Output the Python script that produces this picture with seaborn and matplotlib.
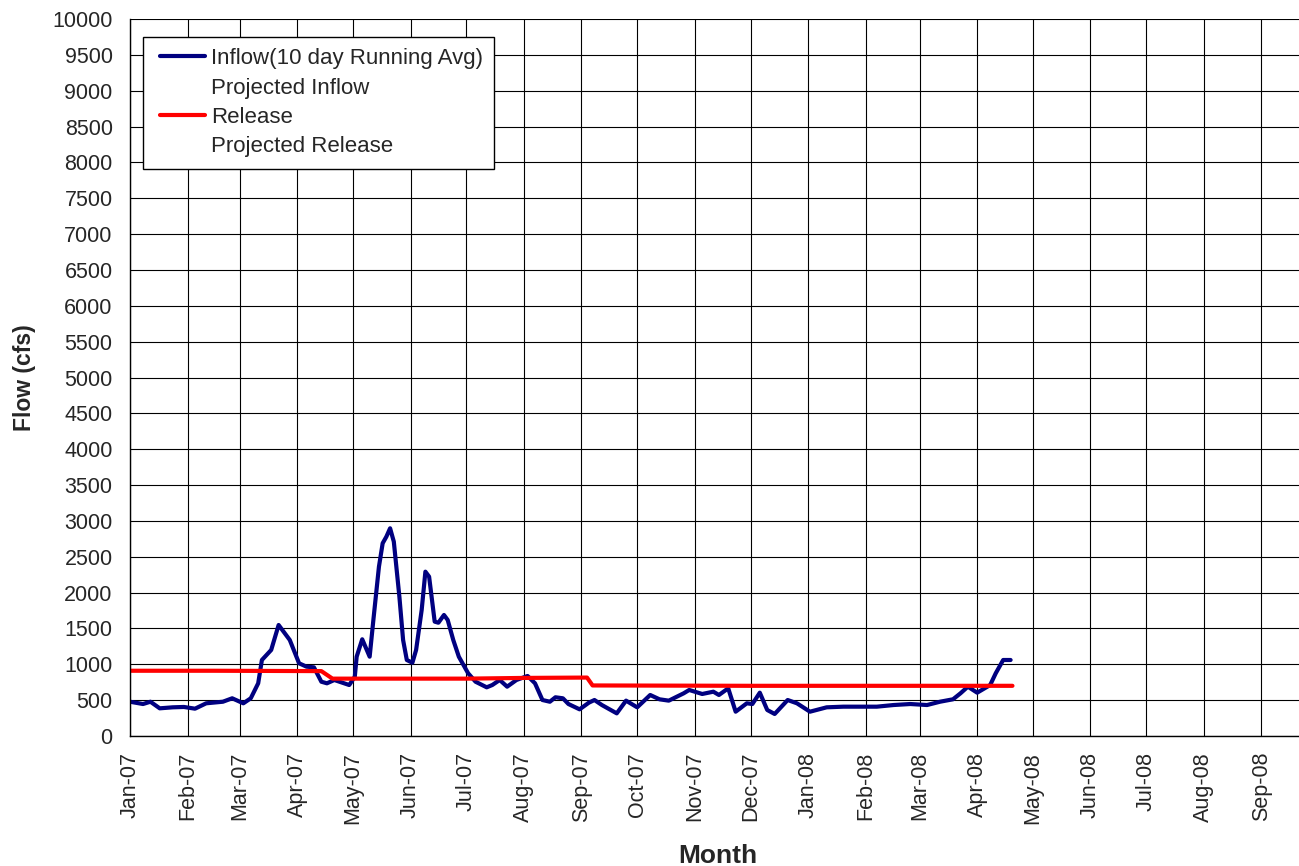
import matplotlib
matplotlib.use('Agg')
import matplotlib.pyplot as plt
import matplotlib.dates as mdates
from matplotlib.lines import Line2D
from matplotlib.legend_handler import HandlerLine2D
import seaborn as sns
import pandas as pd

# Inflow, 10 day running average
inflow_dates = ['2007-01-01', '2007-01-08', '2007-01-12', '2007-01-17', '2007-01-24', '2007-01-30',
                '2007-02-05', '2007-02-11', '2007-02-20', '2007-02-25', '2007-03-03', '2007-03-07',
                '2007-03-11', '2007-03-13', '2007-03-18', '2007-03-22', '2007-03-28', '2007-04-02',
                '2007-04-06', '2007-04-10', '2007-04-14', '2007-04-17', '2007-04-21', '2007-04-29',
                '2007-05-02', '2007-05-03', '2007-05-06', '2007-05-10', '2007-05-12', '2007-05-15',
                '2007-05-17', '2007-05-19', '2007-05-21', '2007-05-23', '2007-05-26', '2007-05-28',
                '2007-05-30', '2007-06-02', '2007-06-04', '2007-06-07', '2007-06-09', '2007-06-11',
                '2007-06-13', '2007-06-14', '2007-06-16', '2007-06-19', '2007-06-21', '2007-06-24',
                '2007-06-27', '2007-07-02', '2007-07-06', '2007-07-12', '2007-07-15', '2007-07-19',
                '2007-07-23', '2007-07-28', '2007-08-03', '2007-08-07', '2007-08-11', '2007-08-15',
                '2007-08-18', '2007-08-22', '2007-08-25', '2007-08-31', '2007-09-05', '2007-09-08',
                '2007-09-12', '2007-09-20', '2007-09-25', '2007-10-01', '2007-10-08', '2007-10-13',
                '2007-10-18', '2007-10-26', '2007-10-29', '2007-11-05', '2007-11-11', '2007-11-14',
                '2007-11-19', '2007-11-23', '2007-11-29', '2007-12-02', '2007-12-06', '2007-12-10',
                '2007-12-14', '2007-12-21', '2007-12-26', '2008-01-02', '2008-01-11', '2008-01-20',
                '2008-01-29', '2008-02-07', '2008-02-16', '2008-02-25', '2008-03-05', '2008-03-12',
                '2008-03-19', '2008-03-23', '2008-03-27', '2008-04-01', '2008-04-08', '2008-04-11',
                '2008-04-15', '2008-04-19']
inflow = [478, 446, 478, 386, 400, 405,
          381, 456, 478, 526, 456, 526,
          735, 1060, 1200, 1548, 1339, 1014,
          967, 958, 757, 735, 781, 711,
          827, 1106, 1349, 1106, 1618, 2362,
          2688, 2780, 2897, 2711, 1943, 1339,
          1060, 1022, 1200, 1758, 2292, 2222,
          1804, 1595, 1580, 1688, 1618, 1339,
          1106, 875, 757, 679, 711, 781,
          688, 781, 837, 735, 502, 478,
          540, 526, 446, 372, 465, 502,
          432, 316, 493, 400, 572, 512,
          493, 595, 642, 586, 618, 572,
          665, 339, 456, 446, 604, 363,
          307, 502, 456, 339, 400, 409,
          409, 409, 432, 446, 432, 478,
          512, 595, 688, 604, 711, 875,
          1060, 1060]

# Release
release_dates = ['2007-01-01', '2007-02-15', '2007-04-14', '2007-04-20', '2007-07-01',
                 '2007-08-01', '2007-09-04', '2007-09-07', '2007-12-01', '2008-04-20']
release = [910, 910, 905, 800, 800, 810, 815, 705, 700, 700]

legend_labels = ['Inflow(10 day Running Avg)', 'Projected Inflow', 'Release', 'Projected Release']

df_in = pd.DataFrame({'Date': pd.to_datetime(inflow_dates), 'Flow': inflow})
df_rel = pd.DataFrame({'Date': pd.to_datetime(release_dates), 'Flow': release})

sns.set_style('white')
plt.rcParams['font.family'] = ['Liberation Sans', 'DejaVu Sans']

fig = plt.figure(figsize=(12.99, 8.66), dpi=100)
ax = fig.add_axes([130 / 1299, 1 - 736 / 866, 1176 / 1299, 717 / 866])

sns.lineplot(data=df_in, x='Date', y='Flow', ax=ax, color='#000080', linewidth=3,
             label=legend_labels[0])
ax.plot([], [], color='white', linewidth=3, label=legend_labels[1])
sns.lineplot(data=df_rel, x='Date', y='Flow', ax=ax, color='#ff0000', linewidth=3,
             label=legend_labels[2])
ax.plot([], [], color='white', linewidth=3, label=legend_labels[3])

ax.set_xlim(pd.Timestamp('2007-01-01'), pd.Timestamp('2008-09-25'))
ax.set_ylim(0, 10000)
ax.set_yticks(range(0, 10001, 500))
ax.xaxis.set_major_locator(mdates.MonthLocator())
ax.xaxis.set_major_formatter(mdates.DateFormatter('%b-%y'))

ax.grid(True, color='black', linewidth=0.8)
ax.set_axisbelow(True)
for side in ['top', 'right']:
    ax.spines[side].set_visible(False)
for side in ['left', 'bottom']:
    ax.spines[side].set_color('black')
    ax.spines[side].set_linewidth(1)

ax.tick_params(axis='both', direction='out', length=5, width=1, color='black',
               labelsize=15.5)
ax.tick_params(axis='y', pad=7.5)
ax.tick_params(axis='x', pad=6.5)
plt.setp(ax.get_xticklabels(), rotation=90)

ax.set_xlabel('Month', fontsize=19, fontweight='bold')
ax.set_ylabel('Flow (cfs)', fontsize=16.5, fontweight='bold')
ax.xaxis.set_label_coords(0.5, -0.15)
ax.yaxis.set_label_coords(-0.08, 0.5)

leg = ax.legend(loc='upper left', bbox_to_anchor=(143 / 1299, 1 - 37 / 866),
                bbox_transform=fig.transFigure, borderaxespad=0, fontsize=16,
                frameon=True, fancybox=False, framealpha=1, edgecolor='black',
                handlelength=2.29, handletextpad=0.27, labelspacing=0.38, borderpad=0.5,
                handler_map={Line2D: HandlerLine2D(xpad=0.27)})
leg.get_frame().set_linewidth(1)

plt.savefig('out.png', dpi=100)
